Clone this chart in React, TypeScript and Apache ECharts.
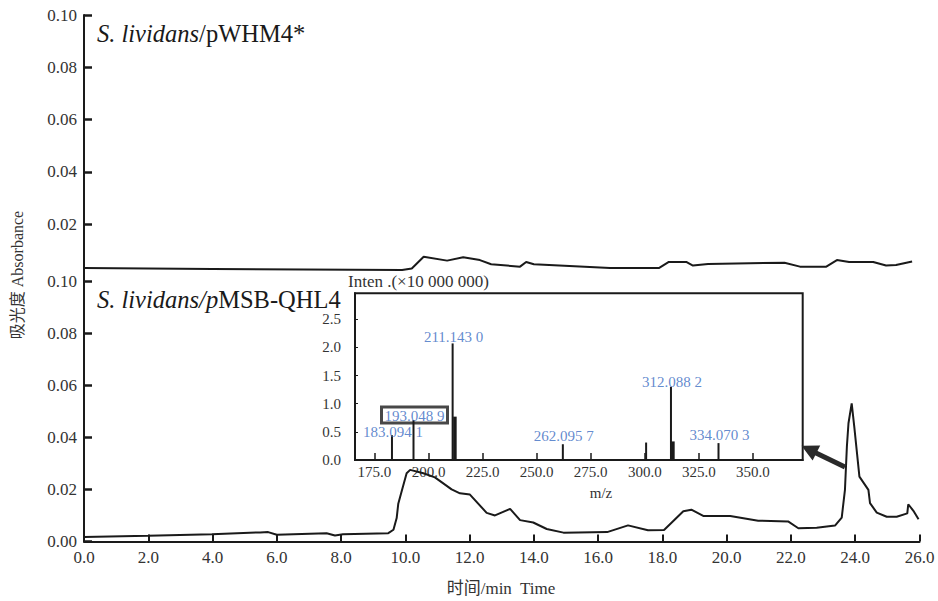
import React, { useEffect, useRef } from 'react';
import * as echarts from 'echarts';

// Chromatogram, S. lividans/pWHM4* (upper panel)
const topTime = [0, 4.0, 9.9, 10.2, 10.57, 11.3, 11.8, 12.32, 12.67, 13.57, 13.76, 14.0, 16.37, 17.9, 18.2, 18.74, 18.95, 19.42, 21.8, 22.28, 23.1, 23.43, 23.81, 24.56, 24.96, 25.27, 25.77];
const topAbs = [0.0032, 0.0028, 0.0024, 0.0030, 0.0075, 0.0060, 0.0073, 0.0062, 0.0046, 0.0037, 0.0055, 0.0046, 0.0032, 0.0032, 0.0055, 0.0055, 0.0041, 0.0047, 0.0052, 0.0037, 0.0037, 0.0062, 0.0055, 0.0055, 0.0041, 0.0043, 0.0057];

// Chromatogram, S. lividans/pMSB-QHL4 (lower panel)
const bottomTime = [0, 1.99, 3.98, 5.48, 5.73, 6.0, 7.55, 7.81, 8.06, 9.47, 9.63, 9.73, 9.78, 9.89, 10.04, 10.15, 10.56, 10.92, 11.44, 11.7, 12.01, 12.53, 12.79, 13.26, 13.57, 13.98, 14.4, 14.92, 16.28, 16.93, 17.55, 18.05, 18.65, 18.9, 19.27, 20.11, 20.98, 21.91, 22.23, 22.8, 23.37, 23.58, 23.68, 23.74, 23.79, 23.89, 23.97, 24.13, 24.41, 24.46, 24.67, 24.98, 25.29, 25.62, 25.65, 25.81, 25.97];
const bottomAbs = [0.0017, 0.0022, 0.0028, 0.0035, 0.0036, 0.0026, 0.0032, 0.0023, 0.0028, 0.0032, 0.0045, 0.0090, 0.0145, 0.0195, 0.0262, 0.0275, 0.0262, 0.0246, 0.0200, 0.0185, 0.0180, 0.0110, 0.0100, 0.0125, 0.0082, 0.0073, 0.0048, 0.0034, 0.0036, 0.0062, 0.0043, 0.0044, 0.0116, 0.0122, 0.0098, 0.0098, 0.0080, 0.0077, 0.0051, 0.0053, 0.0061, 0.0092, 0.0198, 0.0364, 0.0454, 0.0530, 0.0441, 0.0249, 0.0198, 0.0147, 0.0111, 0.0095, 0.0095, 0.0108, 0.0143, 0.0118, 0.0085];

// Main axis ticks
const timeTicks = [0, 2, 4, 6, 8, 10, 12, 14, 16, 18, 20, 22, 24, 26];
const absTicksTop = [0.02, 0.04, 0.06, 0.08, 0.1];

// Inset mass spectrum
const peakMz = [183.09, 193.05, 211.14, 262.1, 300.6, 312.09, 334.07];
const peakIntensity = [0.44, 0.71, 2.07, 0.28, 0.31, 1.3, 0.3];
const shoulderMz = [212.2, 313.0];
const shoulderIntensity = [0.77, 0.33];
const labelMz = [183.0941, 193.0489, 211.143, 262.0957, 312.0882, 334.0703];
const labelIntensity = [0.44, 0.71, 2.07, 0.28, 1.3, 0.3];
const labelText = ['183.094 1', '193.048 9', '211.143 0', '262.095 7', '312.088 2', '334.070 3'];
const mzTicks = [175, 200, 225, 250, 275, 300, 325, 350];
const intensityTicks = [0, 0.5, 1.0, 1.5, 2.0, 2.5];

const SERIF = 'Liberation Serif, serif';
const CJK_SERIF = 'Liberation Serif, Noto Sans CJK SC, serif';
const INK = '#1a1a1a';
const BLUE = '#3a6cc2';

export default function App() {
  const ref = useRef<HTMLDivElement>(null);

  useEffect(() => {
    if (!ref.current) return;
    const chart = echarts.init(ref.current, null, { renderer: 'svg' });

    const labelDy = [4, 3, 1, -1, 3, -1];
    const boxed = [false, true, false, false, false, false];

    const barRender = (w: number) => (params: any, api: any) => {
      const base = api.coord([api.value(0), 0]);
      const top = api.coord([api.value(0), api.value(1)]);
      return {
        type: 'rect',
        shape: { x: top[0] - w / 2, y: top[1], width: w, height: base[1] - top[1] },
        style: { fill: INK },
      };
    };

    const serifLabel = (size: number, digits: number) => ({
      color: '#333',
      fontFamily: SERIF,
      fontSize: size,
      formatter: (v: number) => `{s|${Number(v).toFixed(digits)}}`,
      rich: { s: { fontFamily: SERIF, fontSize: size, color: '#333' } },
    });

    const mainYAxisCommon = {
      type: 'value',
      min: 0,
      max: 0.1,
      interval: 0.02,
      axisLine: { show: true, lineStyle: { color: INK, width: 2 } },
      axisTick: { show: true, inside: true, length: 8, lineStyle: { color: INK, width: 2.5 } },
      axisLabel: { ...serifLabel(17, 2), margin: 7 },
      splitLine: { show: false },
    };

    chart.setOption({
      animation: false,
      backgroundColor: '#ffffff',
      textStyle: { fontFamily: SERIF },
      grid: [
        { left: 84, top: 15, width: 835.5, height: 261.3 },
        { left: 84, top: 281, width: 835.5, height: 260.5 },
        { left: 355, top: 293.3, width: 447.7, height: 166.7, show: true, borderColor: INK, borderWidth: 2, backgroundColor: 'transparent' },
      ],
      xAxis: [
        { type: 'value', gridIndex: 0, min: 0, max: 26, show: false },
        {
          type: 'value',
          gridIndex: 1,
          min: 0,
          max: 26,
          interval: 2,
          axisLine: { show: true, onZero: false, lineStyle: { color: INK, width: 2 } },
          axisTick: { show: true, inside: true, length: 7, lineStyle: { color: INK, width: 2 }, customValues: timeTicks },
          axisLabel: { ...serifLabel(17, 1), margin: 7, customValues: timeTicks },
          splitLine: { show: false },
        },
        {
          type: 'value',
          gridIndex: 2,
          min: 166,
          max: 373,
          axisLine: { show: true, onZero: false, lineStyle: { color: INK, width: 2 } },
          axisTick: { show: true, inside: true, length: 7, lineStyle: { color: INK, width: 1.5 }, customValues: mzTicks },
          axisLabel: { ...serifLabel(15, 1), margin: 4, customValues: mzTicks },
          splitLine: { show: false },
        },
      ],
      yAxis: [
        {
          ...mainYAxisCommon,
          gridIndex: 0,
          axisTick: { ...mainYAxisCommon.axisTick, customValues: absTicksTop },
          axisLabel: { ...mainYAxisCommon.axisLabel, customValues: absTicksTop },
        },
        { ...mainYAxisCommon, gridIndex: 1 },
        {
          type: 'value',
          gridIndex: 2,
          min: 0,
          max: 2.96,
          axisLine: { show: true, onZero: false, lineStyle: { color: INK, width: 2 } },
          axisTick: { show: true, inside: true, length: 3, lineStyle: { color: INK, width: 1 }, customValues: intensityTicks },
          axisLabel: { ...serifLabel(15, 1), margin: 14, customValues: intensityTicks },
          splitLine: { show: false },
        },
      ],
      series: [
        {
          type: 'line',
          xAxisIndex: 0,
          yAxisIndex: 0,
          data: topTime.map((t, i) => [t, topAbs[i]]),
          showSymbol: false,
          symbol: 'none',
          lineStyle: { color: INK, width: 2 },
          z: 3,
        },
        {
          type: 'line',
          xAxisIndex: 1,
          yAxisIndex: 1,
          data: bottomTime.map((t, i) => [t, bottomAbs[i]]),
          showSymbol: false,
          symbol: 'none',
          lineStyle: { color: INK, width: 2 },
          z: 3,
        },
        {
          type: 'custom',
          xAxisIndex: 2,
          yAxisIndex: 2,
          data: peakMz.map((m, i) => [m, peakIntensity[i]]),
          renderItem: barRender(2),
          encode: { x: 0, y: 1 },
          z: 4,
        },
        {
          type: 'custom',
          xAxisIndex: 2,
          yAxisIndex: 2,
          data: shoulderMz.map((m, i) => [m, shoulderIntensity[i]]),
          renderItem: barRender(3.5),
          encode: { x: 0, y: 1 },
          z: 4,
        },
        {
          type: 'scatter',
          xAxisIndex: 2,
          yAxisIndex: 2,
          symbolSize: 0,
          z: 6,
          data: labelMz.map((m, i) => ({
            value: [m, labelIntensity[i]],
            label: {
              show: true,
              position: 'top',
              distance: 0,
              offset: [1, labelDy[i]],
              formatter: labelText[i],
              color: BLUE,
              fontFamily: SERIF,
              fontSize: 15,
              ...(boxed[i]
                ? { borderColor: INK, borderWidth: 1.5, padding: [1, 3, 0, 3], backgroundColor: 'transparent' }
                : {}),
            },
          })),
        },
      ],
      graphic: [
        { type: 'line', shape: { x1: 84, y1: 275, x2: 84, y2: 282 }, style: { stroke: INK, lineWidth: 2 } },
        {
          type: 'text',
          x: 97,
          y: 33,
          style: {
            text: '{i|S. lividans}{n|/pWHM4*}',
            verticalAlign: 'middle',
            rich: {
              i: { fontFamily: SERIF, fontStyle: 'italic', fontSize: 24.5, fill: INK },
              n: { fontFamily: SERIF, fontSize: 24.5, fill: INK },
            },
          },
        },
        {
          type: 'text',
          x: 97,
          y: 299,
          style: {
            text: '{i|S. lividans/p}{n|MSB-QHL4}',
            verticalAlign: 'middle',
            rich: {
              i: { fontFamily: SERIF, fontStyle: 'italic', fontSize: 24.5, fill: INK },
              n: { fontFamily: SERIF, fontSize: 24.5, fill: INK },
            },
          },
        },
        {
          type: 'text',
          x: 17,
          y: 275,
          rotation: Math.PI / 2,
          style: {
            text: '吸光度 Absorbance',
            align: 'center',
            verticalAlign: 'middle',
            fontFamily: CJK_SERIF,
            fontSize: 16,
            fill: '#333',
          },
        },
        {
          type: 'text',
          x: 501,
          y: 588,
          style: {
            text: '时间/min  Time',
            align: 'center',
            verticalAlign: 'middle',
            fontFamily: CJK_SERIF,
            fontSize: 17,
            fill: '#333',
          },
        },
        {
          type: 'text',
          x: 348,
          y: 281,
          style: {
            text: 'Inten .(×10 000 000)',
            verticalAlign: 'middle',
            fontFamily: SERIF,
            fontSize: 17,
            fill: '#333',
          },
        },
        {
          type: 'text',
          x: 601,
          y: 493,
          style: {
            text: 'm/z',
            align: 'center',
            verticalAlign: 'middle',
            fontFamily: SERIF,
            fontSize: 15,
            fill: '#333',
          },
        },
        {
          type: 'polyline',
          shape: { points: [[845, 467], [815, 452.5]] },
          style: { stroke: '#2a2a2a', lineWidth: 5 },
          z: 10,
        },
        {
          type: 'polygon',
          shape: { points: [[803, 446.5], [819, 446.3], [812.5, 459]] },
          style: { fill: '#2a2a2a', stroke: '#2a2a2a', lineWidth: 1.5 },
          z: 10,
        },
      ],
    });

    return () => chart.dispose();
  }, []);

  return <div ref={ref} style={{ position: 'fixed', left: 0, top: 0, width: 938, height: 601 }} />;
}
